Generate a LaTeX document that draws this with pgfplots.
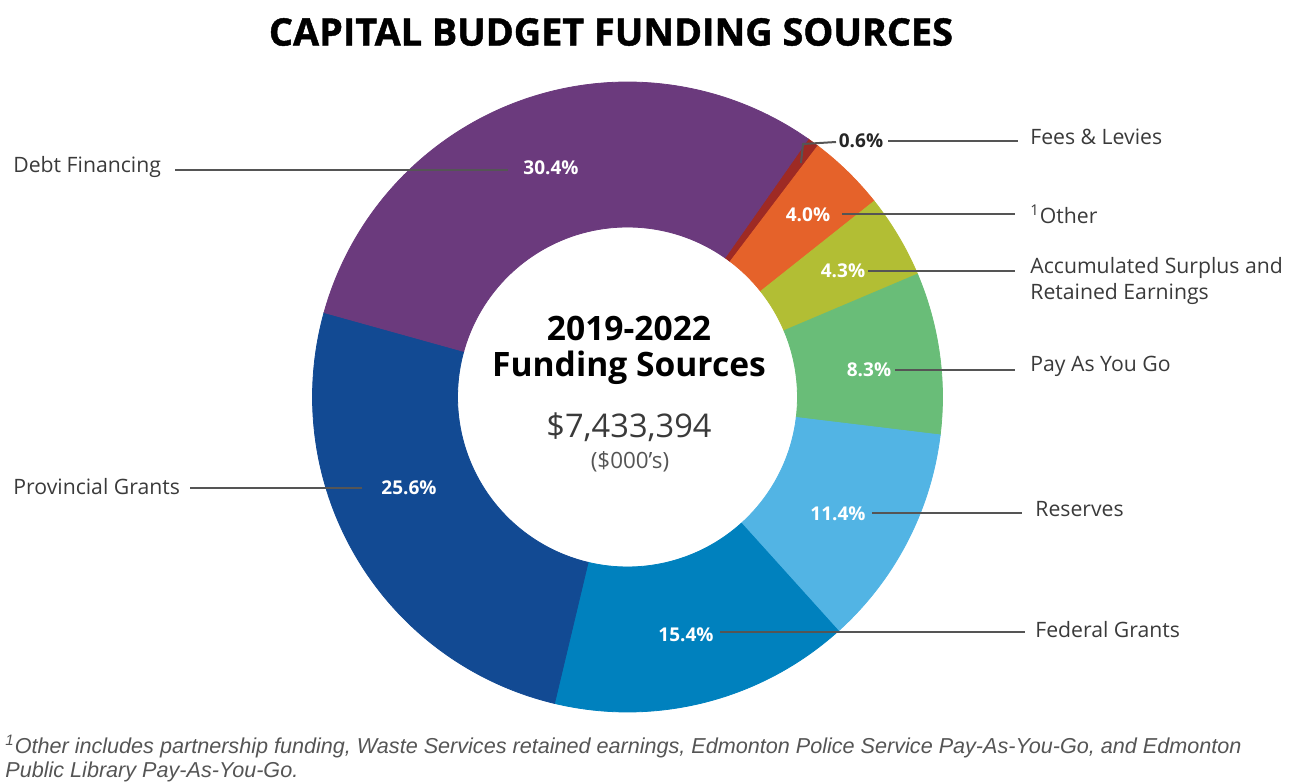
\documentclass[border=0pt]{standalone}
\usepackage{fontspec}
\setmainfont{Open Sans}
\newfontfamily\titlefont[BoldFeatures={FakeBold=1.2}]{Open Sans}
\newfontfamily\footfont{Liberation Sans}
\usepackage{pgfplots}
\usepackage{pgfplotstable}
\pgfplotsset{compat=1.18}

\definecolor{slice0}{HTML}{9E2A24}% Fees & Levies
\definecolor{slice1}{HTML}{E5622A}% Other
\definecolor{slice2}{HTML}{B2BE34}% Accumulated Surplus
\definecolor{slice3}{HTML}{69BD78}% Pay As You Go
\definecolor{slice4}{HTML}{52B4E4}% Reserves
\definecolor{slice5}{HTML}{0081BE}% Federal Grants
\definecolor{slice6}{HTML}{124A93}% Provincial Grants
\definecolor{slice7}{HTML}{6B3A7D}% Debt Financing
\definecolor{leader}{HTML}{555555}
\definecolor{lbl}{HTML}{3A3A3A}

% share of the capital budget (%), clockwise from the top
\pgfplotstableread{
idx pct
0   0.6
1   4.0
2   4.3
3   8.3
4   11.4
5   15.4
6   25.6
7   30.4
}\funding
\pgfplotstablecreatecol[create col/expr accum={\pgfmathaccuma+\thisrow{pct}}{0}]{cum}\funding

\def\Ro{157.5pt}
\def\Ri{85pt}

\begin{document}
\begin{tikzpicture}
\begin{axis}[
  scale only axis, width=649pt, height=390pt,
  xmin=0, xmax=1298, ymin=0, ymax=780,
  hide axis, clip=false, set layers]

  \path (rel axis cs:0,0) rectangle (rel axis cs:1,1);

  % donut slices
  \addplot[scatter, only marks, mark=text, text mark={},
    point meta=\thisrow{pct},
    visualization depends on={55-3.6*(\thisrow{cum}-\thisrow{pct})\as\sa},
    visualization depends on={55-3.6*\thisrow{cum}\as\ea},
    visualization depends on={\thisrow{idx}\as\idx},
    scatter/@pre marker code/.code={%
      \pgfmathtruncatemacro\k{\idx}%
      \fill[slice\k] (\sa:\Ro) arc[start angle=\sa,end angle=\ea,radius=\Ro]
        -- (\ea:\Ri) arc[start angle=\ea,end angle=\sa,radius=\Ri] -- cycle;},
    scatter/@post marker code/.code={}]
    table[x expr=627.5, y expr=383] {\funding};

  \begin{pgfonlayer}{axis foreground}
  % title
  \node[font=\titlefont\fontsize{18.9}{21}\bfseries\selectfont] at (axis cs:611,748) {CAPITAL BUDGET FUNDING SOURCES};

  % centre text
  \node[font=\fontsize{16.8}{19}\bfseries\selectfont] at (axis cs:629,452) {2019-2022};
  \node[font=\fontsize{16.8}{19}\bfseries\selectfont] at (axis cs:629,412) {Funding Sources};
  \node[font=\fontsize{16.3}{19}\selectfont, text=lbl] at (axis cs:629,353) {\$7,433,394};
  \node[font=\fontsize{11.2}{13}\selectfont, text=leader] at (axis cs:630,318) {(\$000's)};

  % leader lines
  \begin{scope}[leader, line width=1pt]
    \draw (axis cs:175,610) -- (axis cs:508,610);
    \draw (axis cs:190,292) -- (axis cs:362,292);
    \draw (axis cs:720,148) -- (axis cs:1025,148);
    \draw (axis cs:872,267) -- (axis cs:1022,267);
    \draw (axis cs:895,410) -- (axis cs:1015,410);
    \draw (axis cs:868,509) -- (axis cs:1015,509);
    \draw (axis cs:842,566) -- (axis cs:1015,566);
    \draw (axis cs:888,639) -- (axis cs:1018,639);
    \draw (axis cs:836,638) -- (axis cs:803,636) -- (axis cs:801,617);
  \end{scope}

  % percentages
  \begin{scope}[every node/.style={font=\fontsize{9.5}{11}\bfseries\selectfont, text=white, inner sep=1pt}]
    \node at (axis cs:551,612) {30.4\%};
    \node at (axis cs:409,292) {25.6\%};
    \node at (axis cs:686,145) {15.4\%};
    \node at (axis cs:838,266) {11.4\%};
    \node at (axis cs:869,410) {8.3\%};
    \node at (axis cs:843,509) {4.3\%};
    \node at (axis cs:808,565) {4.0\%};
    \node[text=black!85] at (axis cs:861,639) {0.6\%};
  \end{scope}

  % category names
  \begin{scope}[every node/.style={font=\fontsize{10.6}{13}\selectfont, text=lbl, anchor=west, inner sep=0pt, align=left}]
    \node at (axis cs:13,613) {Debt Financing};
    \node at (axis cs:13,293) {Provincial Grants};
    \node at (axis cs:1030,643) {Fees \& Levies};
    \node at (axis cs:1030,566) {\textsuperscript{1}Other};
    \node at (axis cs:1030,499) {Accumulated Surplus and\\Retained Earnings};
    \node at (axis cs:1030,414) {Pay As You Go};
    \node at (axis cs:1035,271) {Reserves};
    \node at (axis cs:1035,150) {Federal Grants};
  \end{scope}

  % footnote
  \node[anchor=west, inner sep=0pt, align=left, text=leader,
    font=\footfont\itshape\fontsize{10.8}{11.6}\selectfont] at (axis cs:5,21.5)
    {\textsuperscript{1}Other includes partnership funding, Waste Services retained earnings, Edmonton Police Service Pay-As-You-Go, and Edmonton\\Public Library Pay-As-You-Go.};
  \end{pgfonlayer}
\end{axis}
\end{tikzpicture}
\end{document}
